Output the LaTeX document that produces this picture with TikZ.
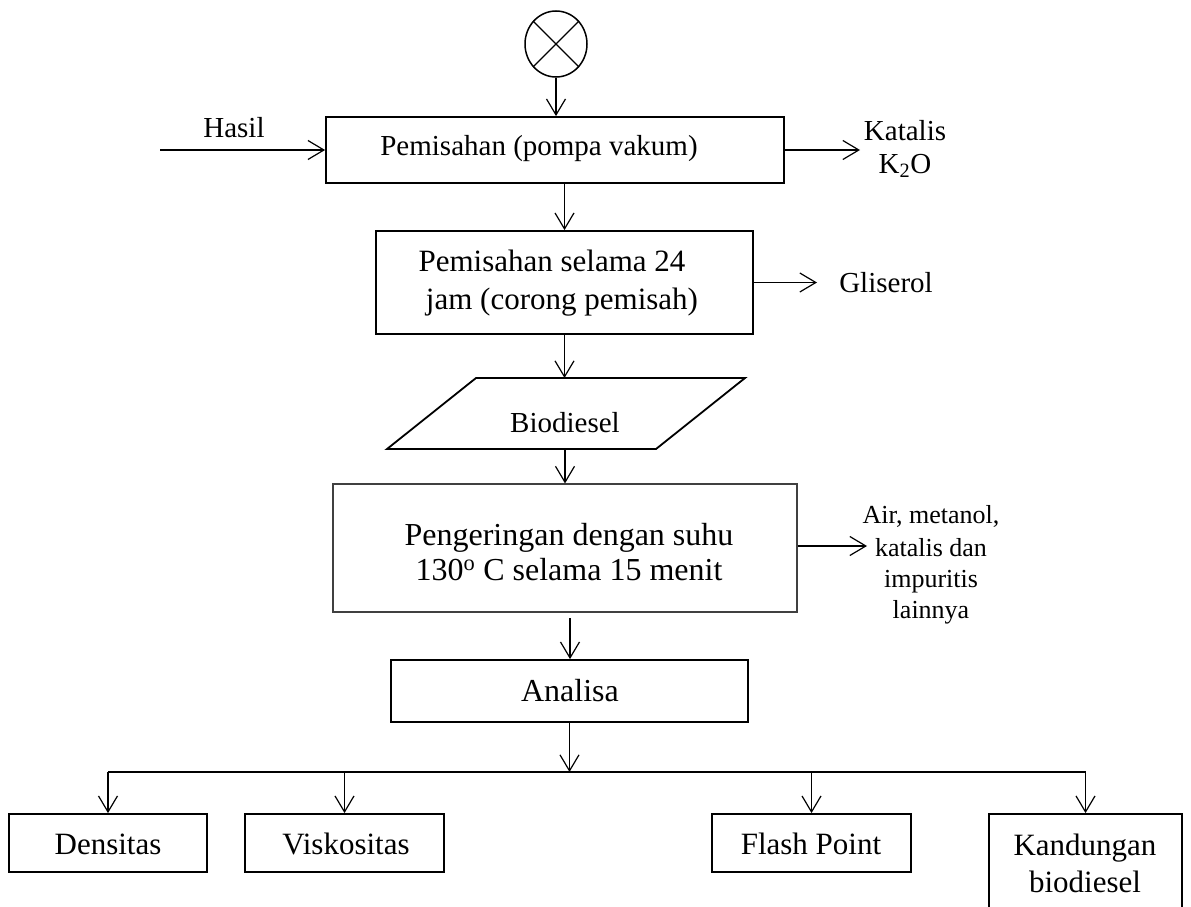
\documentclass[tikz,border=0pt]{standalone}
\usepackage{fontspec}
\setmainfont{Liberation Serif}
\usetikzlibrary{arrows.meta,shapes.geometric}

\tikzset{
  box/.style={draw, line width=1.8pt, rectangle, inner sep=0pt},
  softbox/.style={draw=black!75, line width=1.1pt, rectangle, inner sep=0pt},
  flow/.style={line width=1.2pt, -{Straight Barb[length=16pt,width=19pt]}},
  rail/.style={line width=1.4pt},
  lbl/.style={inner sep=0pt, anchor=base, font=\fontsize{#1}{#1}\selectfont},
}

\begin{document}
\begin{tikzpicture}[x=1pt,y=-1pt]
\useasboundingbox (0,0) rectangle (1191,907);
\clip (0,0) rectangle (1191,907);

% mixing symbol at the top
\node[draw, ellipse, line width=1.5pt, minimum width=62pt, minimum height=66pt, inner sep=0pt] (mix) at (556,44) {};
\draw[line width=1.2pt] (mix.45) -- (mix.225) (mix.135) -- (mix.315);

% process boxes
\node[box, minimum width=458pt, minimum height=66pt]  (b1) at (555,150) {};
\node[box, minimum width=377pt, minimum height=103pt] (b2) at (564.5,282.5) {};
\node[softbox, minimum width=464pt, minimum height=128pt] (b3) at (565,548) {};
\node[box, minimum width=357pt, minimum height=62pt]  (an) at (569.5,691) {};

% analysis boxes
\node[box, minimum width=198pt, minimum height=58pt] (d1) at (108,843) {};
\node[box, minimum width=199pt, minimum height=58pt] (d2) at (344.5,843) {};
\node[box, minimum width=199pt, minimum height=58pt] (d3) at (811.5,843) {};
\node[box, minimum width=193pt, minimum height=98pt] (d4) at (1085.5,863) {};

% data symbol (parallelogram)
\draw[line width=1.8pt] (387,449) -- (476,378) -- (745,378) -- (656,449) -- cycle;
\coordinate (pTop) at (565,378);
\coordinate (pBot) at (565,449);

% texts
\node[lbl=29] (hasil) at (234,137) {Hasil};
\node[lbl=29] (t1) at (539,155) {Pemisahan (pompa vakum)};
\node[lbl=29] (kat1) at (905,140) {Katalis};
\node[lbl=29] (kat2) at (905,173) {K\textsubscript{2}O};
\node[lbl=31] (t2a) at (552,271) {Pemisahan selama 24};
\node[lbl=31] (t2b) at (562,309) {jam (corong pemisah)};
\node[lbl=29] (glis) at (886,292) {Gliserol};
\node[lbl=29] (bio) at (565,432) {Biodiesel};
\node[lbl=32] (t3a) at (569,545) {Pengeringan dengan suhu};
\node[lbl=32] (t3b) at (569,580) {130\textsuperscript{o} C selama 15 menit};
\node[lbl=26] (air1) at (931,523) {Air, metanol,};
\node[lbl=26] (air2) at (931,556) {katalis dan};
\node[lbl=26] (air3) at (931,587) {impuritis};
\node[lbl=26] (air4) at (931,618) {lainnya};
\node[lbl=32] (tan) at (570,701) {Analisa};
\node[lbl=31] (td1) at (108,854) {Densitas};
\node[lbl=31] (td2) at (346,854) {Viskositas};
\node[lbl=31] (td3) at (811,854) {Flash Point};
\node[lbl=31] (td4a) at (1085,855) {Kandungan};
\node[lbl=31] (td4b) at (1085,892) {biodiesel};

% connectors
\coordinate (hasilIn) at (160,150);
\coordinate (katOut) at (860,150);
\coordinate (glisOut) at (817,282.5);
\coordinate (airOut) at (867,546);
\coordinate (anIn) at (570,618);
\coordinate (bus) at (570,772);

\draw[flow] (mix.south) -- (mix.south |- b1.north);
\draw[flow] (hasilIn) -- (b1.west);
\draw[flow] (b1.east) -- (katOut);
\draw[flow] (b2.north |- b1.south) -- (b2.north);
\draw[flow] (b2.east) -- (glisOut);
\draw[flow] (b2.south) -- (b2.south |- pTop);
\draw[flow] (pBot) -- (pBot |- b3.north);
\draw[flow] (b3.east |- airOut) -- (airOut);
\draw[flow] (anIn) -- (anIn |- an.north);
\draw[flow] (an.south) -- (an.south |- bus);
\draw[rail] (d1.north |- bus) -- (d4.north |- bus);
\foreach \n in {d1,d2,d3,d4} \draw[flow] (\n.north |- bus) -- (\n.north);
\end{tikzpicture}
\end{document}
